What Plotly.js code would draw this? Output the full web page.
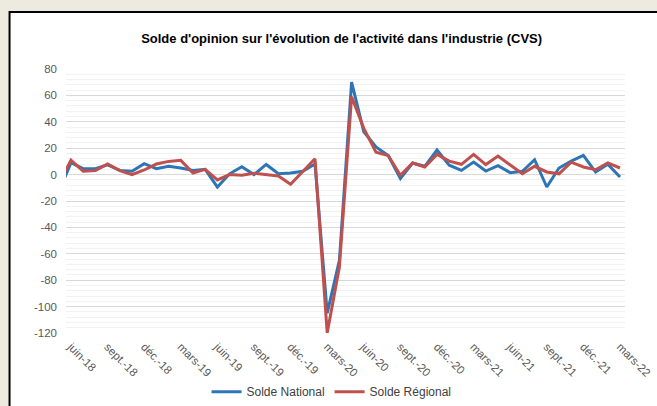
<!DOCTYPE html>
<html>
<head>
<meta charset="utf-8">
<script src="https://cdn.plot.ly/plotly-3.0.1.min.js"></script>
<style>
html,body{margin:0;padding:0;background:#EDEAE0;}
#chart{width:657px;height:406px;}
</style>
</head>
<body>
<div id="chart"></div>
<script>
const months = ["mai-18","juin-18","juil.-18","août-18","sept.-18","oct.-18","nov.-18","déc.-18",
  "janv.-19","févr.-19","mars-19","avr.-19","mai-19","juin-19","juil.-19","août-19","sept.-19","oct.-19","nov.-19","déc.-19",
  "janv.-20","févr.-20","mars-20","avr.-20","mai-20","juin-20","juil.-20","août-20","sept.-20","oct.-20","nov.-20","déc.-20",
  "janv.-21","févr.-21","mars-21","avr.-21","mai-21","juin-21","juil.-21","août-21","sept.-21","oct.-21","nov.-21","déc.-21",
  "janv.-22","févr.-22","mars-22"];
const soldeNational = [-13, 9, 4.5, 4.5, 7.4, 3.2, 2.5, 8.3,
  4.5, 6.3, 5, 3.2, 4, -9.4, 0.6, 6, 0, 7.7, 0.6, 1.2,
  2.5, 8, -105, -65, 70, 32.5, 21, 14.5, -3, 8.8, 6.3, 18.6,
  7.1, 3.2, 9.5, 2.7, 6.8, 1.5, 2.5, 11.3, -9.4, 5, 10.2, 14.5,
  1.9, 7.8, -1.8];
const soldeRegional = [-7, 11, 2.5, 3, 8, 3, 0, 3.5,
  8, 10, 10.8, 1.2, 4, -4, 0, -0.5, 1, 0, -1, -7.3,
  2.7, 12, -120, -70, 59, 35, 17, 14.5, -0.5, 8.8, 5.8, 15.3,
  10.2, 7.8, 15.3, 7.6, 14, 7.6, 0.6, 6.3, 2, 0.6, 9.4, 5.8,
  3.7, 8.9, 5];
const tickLabels = ["juin-18","sept.-18","déc.-18","mars-19","juin-19","sept.-19","déc.-19","mars-20",
  "juin-20","sept.-20","déc.-20","mars-21","juin-21","sept.-21","déc.-21","mars-22"];
const yTicks = [80, 60, 40, 20, 0, -20, -40, -60, -80, -100, -120];

const font = "Liberation Sans, Arial, sans-serif";

const traces = [
  {x: months, y: soldeNational, type: 'scatter', mode: 'lines', name: 'Solde National',
   line: {color: '#2E75B6', width: 3}},
  {x: months, y: soldeRegional, type: 'scatter', mode: 'lines', name: 'Solde Régional',
   line: {color: '#C0504D', width: 3}}
];

const layout = {
  width: 657, height: 406,
  margin: {l: 66, r: 32, t: 69, b: 73},
  paper_bgcolor: '#EDEAE0',
  plot_bgcolor: 'rgba(0,0,0,0)',
  font: {family: font, size: 11, color: '#595959'},
  title: {text: "Solde d'opinion sur l'évolution de l'activité dans l'industrie (CVS)",
    font: {family: font, size: 13, color: '#000000', weight: 'bold'},
    x: 0.52, xanchor: 'center', y: 0.906, yanchor: 'middle', yref: 'container'},
  xaxis: {type: 'category', range: [0.59, 46.41], tickmode: 'array', tickvals: tickLabels,
    ticktext: tickLabels, tickangle: 45, showgrid: false, zeroline: false, showline: false,
    ticks: '', automargin: false, ticklabelstandoff: 4,
    tickfont: {family: font, size: 11.5, color: '#595959'}},
  yaxis: {range: [-120, 80], tickmode: 'array', tickvals: yTicks, ticktext: yTicks.map(String),
    showgrid: true, gridcolor: '#D9D9D9', gridwidth: 1, zeroline: false, showline: false,
    ticks: '', ticklabelstandoff: 8, automargin: false,
    minor: {dtick: 4, showgrid: true, gridcolor: '#F2F2F2', gridwidth: 1},
    tickfont: {family: font, size: 11.5, color: '#595959'}},
  showlegend: true,
  legend: {orientation: 'h', x: 0.475, xanchor: 'center', yref: 'container', y: 0.035, yanchor: 'middle',
    font: {family: font, size: 12, color: '#404040'}, bgcolor: 'rgba(0,0,0,0)', itemwidth: 30,
    tracegroupgap: 0},
  shapes: [
    {type: 'rect', xref: 'paper', yref: 'paper', x0: -0.101, x1: 1.2, y0: -0.4, y1: 1.216,
     fillcolor: '#FFFFFF', line: {color: '#000000', width: 2}, layer: 'below'}
  ]
};

Plotly.newPlot('chart', traces, layout, {displayModeBar: false, staticPlot: true});
</script>
</body>
</html>
